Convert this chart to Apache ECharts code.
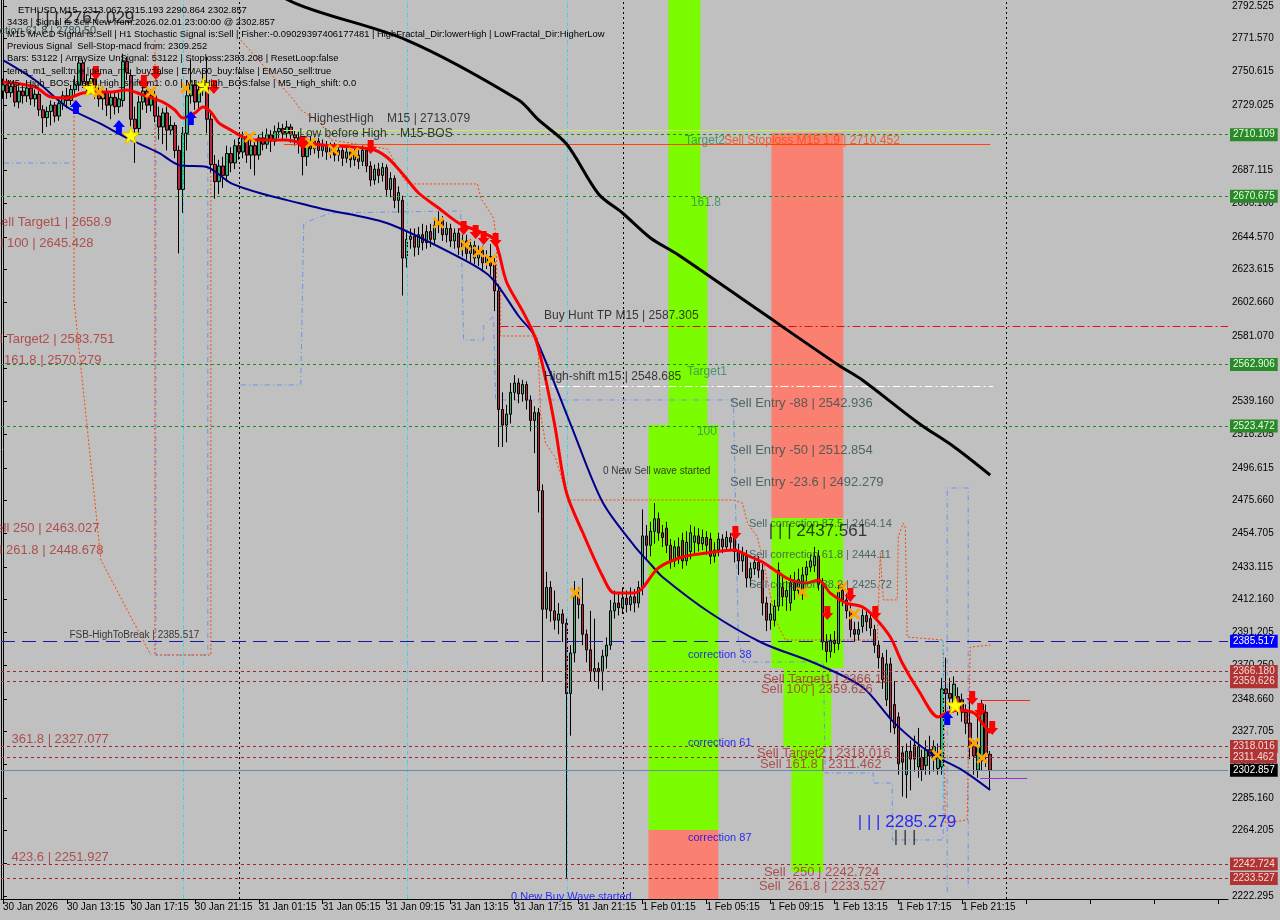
<!DOCTYPE html>
<html><head><meta charset="utf-8">
<script src="https://cdn.jsdelivr.net/npm/echarts@6/dist/echarts.min.js"></script>
<style>html,body{margin:0;padding:0;background:#c0c0c0}#c{width:1280px;height:920px}</style>
</head><body><div id="c"></div>
<script>
const FONT = '"Liberation Sans", Arial, sans-serif';
const Y_MIN = 2220.37, Y_MAX = 2796.37;
const SLOTS = 307;
const tickLabels = ['30 Jan 2026','30 Jan 13:15','30 Jan 17:15','30 Jan 21:15','31 Jan 01:15','31 Jan 05:15','31 Jan 09:15','31 Jan 13:15','31 Jan 17:15','31 Jan 21:15','1 Feb 01:15','1 Feb 05:15','1 Feb 09:15','1 Feb 13:15','1 Feb 17:15','1 Feb 21:15'];
const tickEvery = 16;
const yTicks = [2792.525,2771.570,2750.615,2729.025,2708.070,2687.115,2666.160,2644.570,2623.615,2602.660,2581.070,2560.115,2539.160,2518.205,2496.615,2475.660,2454.705,2433.115,2412.160,2391.205,2370.250,2348.660,2327.705,2306.750,2285.160,2264.205,2243.250,2222.295];

// [open, close, low, high] per M15 bar
const ohlc = [
[2738,2742,2733,2746],[2742,2737,2733,2746],[2737,2741,2734,2745],[2741,2731,2728,2743],[2731,2738,2727,2741],
[2738,2735,2730,2742],[2735,2740,2731,2744],[2740,2733,2729,2743],[2733,2736,2728,2739],[2736,2726,2722,2738],
[2726,2721,2711,2729],[2721,2725,2715,2728],[2725,2729,2716,2732],[2729,2722,2718,2731],[2722,2730,2719,2733],
[2730,2735,2726,2738],[2735,2732,2727,2740],[2732,2739,2729,2742],[2739,2742,2735,2748],[2742,2756,2738,2760],
[2756,2744,2740,2758],[2744,2740,2735,2749],[2740,2746,2736,2752],[2746,2738,2733,2750],[2738,2733,2728,2742],
[2733,2737,2726,2741],[2737,2729,2722,2740],[2729,2734,2720,2737],[2734,2728,2723,2738],[2728,2733,2724,2737],
[2732,2757,2728,2762],[2757,2750,2745,2760],[2748,2720,2712,2752],[2720,2714,2692,2728],[2714,2731,2710,2735],
[2731,2738,2726,2744],[2738,2729,2724,2742],[2729,2735,2725,2739],[2735,2722,2718,2738],[2722,2715,2707,2728],
[2715,2724,2704,2727],[2724,2713,2700,2728],[2713,2716,2710,2722],[2716,2700,2695,2718],[2700,2675,2634,2703],
[2675,2711,2660,2715],[2711,2735,2700,2745],[2735,2742,2730,2758],[2742,2731,2726,2745],[2731,2739,2727,2744],
[2739,2744,2735,2752],[2742,2720,2711,2760],[2720,2691,2686,2724],[2691,2680,2669,2697],[2680,2690,2672,2694],
[2690,2684,2676,2696],[2684,2698,2680,2703],[2698,2692,2686,2702],[2692,2703,2688,2707],[2703,2699,2694,2708],
[2699,2708,2695,2712],[2708,2697,2692,2711],[2697,2703,2688,2706],[2703,2697,2684,2707],[2697,2708,2694,2710],
[2708,2704,2700,2712],[2704,2710,2701,2714],[2710,2706,2699,2713],[2706,2712,2703,2716],[2712,2714,2708,2718],
[2714,2711,2707,2717],[2711,2715,2708,2719],[2715,2710,2705,2717],[2710,2708,2703,2713],[2708,2704,2698,2712],
[2704,2696,2684,2708],[2696,2706,2690,2709],[2706,2701,2697,2709],[2701,2706,2698,2709],[2706,2700,2695,2708],
[2700,2703,2696,2707],[2703,2699,2694,2706],[2699,2702,2695,2705],[2702,2697,2693,2705],[2697,2700,2693,2704],
[2700,2695,2690,2703],[2695,2699,2692,2702],[2699,2694,2689,2702],[2694,2697,2690,2701],[2697,2693,2688,2701],
[2693,2700,2690,2703],[2700,2690,2686,2702],[2690,2681,2677,2693],[2681,2688,2678,2691],[2688,2684,2679,2692],
[2684,2689,2680,2692],[2689,2675,2671,2691],[2675,2682,2670,2686],[2682,2668,2663,2684],[2668,2673,2660,2677],
[2668,2631,2607,2671],[2631,2643,2625,2648],[2643,2645,2637,2650],[2645,2638,2632,2650],[2638,2646,2633,2651],
[2646,2641,2636,2653],[2641,2648,2637,2652],[2648,2643,2638,2653],[2643,2652,2640,2656],[2652,2655,2647,2661],
[2655,2646,2642,2658],[2646,2650,2641,2654],[2650,2642,2638,2653],[2642,2647,2637,2650],[2647,2638,2633,2650],
[2638,2642,2632,2646],[2642,2634,2630,2646],[2634,2639,2628,2643],[2639,2631,2627,2642],[2631,2636,2626,2639],
[2636,2628,2622,2639],[2628,2632,2624,2636],[2632,2626,2620,2640],[2628,2610,2597,2632],[2610,2534,2510,2614],
[2534,2524,2510,2545],[2524,2531,2513,2537],[2531,2545,2525,2551],[2545,2551,2540,2556],[2551,2544,2538,2554],
[2544,2550,2539,2553],[2550,2540,2534,2552],[2540,2527,2520,2543],[2527,2532,2506,2536],[2532,2482,2468,2535],
[2482,2406,2360,2486],[2406,2420,2400,2430],[2420,2405,2398,2424],[2405,2399,2393,2418],[2399,2403,2390,2410],
[2403,2397,2385,2406],[2397,2352,2234,2400],[2352,2378,2325,2383],[2378,2415,2372,2424],[2415,2409,2400,2420],
[2409,2390,2383,2426],[2390,2380,2372,2393],[2380,2366,2360,2405],[2366,2368,2360,2400],[2368,2366,2355,2372],
[2366,2376,2354,2380],[2376,2383,2368,2388],[2383,2405,2380,2412],[2405,2410,2400,2418],[2410,2407,2402,2416],
[2407,2413,2403,2420],[2413,2409,2404,2418],[2409,2414,2405,2420],[2414,2410,2404,2419],[2410,2420,2407,2424],
[2420,2453,2415,2470],[2453,2447,2438,2460],[2447,2456,2440,2462],[2456,2464,2448,2474],[2464,2455,2450,2468],
[2455,2452,2446,2460],[2458,2447,2442,2462],[2447,2437,2432,2451],[2437,2446,2433,2450],[2446,2440,2435,2452],
[2450,2437,2432,2455],[2437,2449,2434,2456],[2443,2455,2438,2460],[2449,2453,2442,2459],[2453,2448,2443,2458],
[2448,2452,2444,2457],[2452,2447,2441,2456],[2451,2440,2435,2455],[2440,2444,2436,2449],[2444,2451,2440,2455],
[2451,2446,2442,2454],[2446,2452,2443,2456],[2452,2449,2444,2455],[2452,2443,2436,2456],[2443,2437,2428,2448],
[2437,2441,2430,2446],[2440,2426,2420,2444],[2426,2432,2421,2436],[2432,2436,2428,2440],[2436,2431,2426,2440],
[2431,2410,2402,2435],[2410,2399,2392,2414],[2399,2403,2393,2410],[2399,2408,2395,2412],[2408,2431,2405,2436],
[2420,2414,2408,2428],[2414,2418,2405,2424],[2410,2423,2405,2428],[2423,2418,2412,2430],[2418,2425,2414,2432],
[2416,2428,2412,2433],[2428,2433,2424,2437],[2433,2437,2430,2441],[2434,2440,2430,2446],[2440,2422,2418,2444],
[2422,2385,2380,2426],[2385,2379,2372,2390],[2379,2386,2375,2390],[2386,2384,2378,2392],[2384,2417,2380,2422],
[2418,2412,2408,2422],[2412,2405,2400,2416],[2405,2393,2388,2410],[2393,2390,2385,2398],[2390,2393,2386,2398],
[2395,2402,2391,2406],[2402,2398,2392,2406],[2400,2394,2389,2404],[2393,2383,2378,2396],[2383,2375,2368,2386],
[2375,2361,2355,2378],[2348,2371,2344,2380],[2371,2336,2327,2375],[2345,2330,2326,2360],[2337,2307,2300,2340],
[2314,2308,2286,2318],[2300,2315,2285,2320],[2315,2310,2290,2322],[2319,2310,2302,2325],[2305,2318,2298,2330],
[2311,2303,2296,2316],[2306,2316,2300,2322],[2316,2312,2300,2325],[2310,2318,2302,2322],[2304,2314,2300,2320],
[2305,2355,2300,2362],[2355,2352,2340,2375],[2352,2349,2342,2362],[2346,2358,2340,2363],[2350,2345,2338,2356],
[2348,2340,2334,2352],[2340,2333,2326,2345],[2333,2318,2310,2350],[2318,2312,2300,2322],[2303,2318,2298,2340],
[2309,2345,2303,2348],[2340,2313,2305,2345],[2313.067,2302.857,2290.864,2315.193]
];

// moving averages: [bar index, price]
const emaFast = [[0,2743.8],[8,2740.6],[12,2734.2],[16,2733.6],[20,2736.8],[23,2737.4],[27,2737.4],[31,2738.7],[35,2735.5],[40,2731.0],[43,2725.9],[45,2720.8],[48,2724.0],[50,2727.8],[52,2724.6],[54,2717.6],[57,2713.1],[60,2708.6],[63,2706.7],[71,2706.7],[75,2704.7],[80,2703.5],[92,2700.9],[96,2695.8],[100,2684.9],[104,2672.7],[109,2663.1],[114,2653.5],[120,2647.1],[123,2642.6],[126,2615.7],[130,2597.1],[133,2581.1],[135,2562.5],[138,2524.7],[141,2480.5],[145,2455.5],[150,2427.3],[153,2416.4],[158,2416.4],[160,2419.6],[164,2432.5],[170,2439.5],[176,2442.0],[183,2444.0],[186,2440.8],[190,2436.3],[193,2431.2],[197,2424.8],[201,2422.8],[204,2424.8],[207,2416.4],[211,2410.0],[215,2407.5],[218,2401.1],[222,2388.2],[225,2371.6],[229,2354.3],[234,2337.0],[236,2339.5],[239,2341.5],[243,2339.5],[245,2333.1],[247,2326.7]];
const maSlow = [[0,2757.9],[8,2745.1],[16,2727.8],[24,2717.6],[32,2706.7],[39,2698.4],[44,2690.7],[51,2689.4],[57,2679.1],[66,2671.4],[74,2666.3],[80,2662.5],[96,2653.5],[114,2631.7],[122,2618.9],[129,2593.9],[133,2581.1],[142,2524.7],[150,2474.7],[158,2446.5],[162,2435.0],[165,2426.7],[177,2403.6],[190,2384.4],[203,2371.6],[215,2356.2],[223,2333.2],[232,2313.9],[240,2303.0],[247,2290.2]];
const ma200 = [[58,2818],[73,2794.4],[101,2770.7],[129,2732.3],[134,2719.5],[141,2704.1],[149,2672.1],[155,2659.9],[162,2643.9],[169,2633.0],[189,2597.7],[209,2562.5],[215,2552.9],[229,2525.4],[238,2510.0],[247,2492.0]];

// price levels
const greenLevels = [2710.109, 2670.675, 2562.906, 2523.472];
const blueLevels = [2385.517];
const redLevels = [2366.180, 2359.626, 2318.016, 2311.462, 2242.724, 2233.527];
const lastPrice = 2302.857;

// partial horizontal segments [fromBar, toBar, price]
const buyHuntTP = [[124.5, 306.5, 2587.305]];
const highShift = [[134.5, 247.75, 2548.685]];
const highestHigh = [[70.25, 247, 2713.079]];
const lowBeforeHigh = [[70.25, 247, 2704.2]];
const redShort = [[245, 257, 2347.9]];
const purpleShort = [[244.5, 256.25, 2297.9]];

// vertical lines
const dayDividers = [59, 155.25, 251];
const cyanFull = [45, 101.25, 141.25];
const cyanPartial = [[235.25, 2386.3, 2283.0]];

// zones [fromBar, toBar, topPrice, bottomPrice]
const greenZones = [[166.5,174.5,2796.4,2670.8],[166.5,176.25,2670.8,2524.1],[161.5,179,2524.1,2264.6],[192.25,210.25,2464.5,2368.4],[195.25,207.25,2368.4,2317.8],[197.25,205.25,2317.8,2237.7]];
const salmonZones = [[161.5,179,2264.6,2220.4],[192.25,210.25,2711.2,2464.5]];

// dashed indicator envelopes [bar, price]
const blueEnv1 = [[0.25,2691.9],[17.5,2691.9]];
const blueEnv2 = [[38.25,2732.3],[38.25,2376.7],[51.25,2376.7],[51.25,2706.7]];
const blueEnv3 = [[59.5,2549.7],[74.5,2549.7],[75.25,2653.5],[82,2659.9],[114.5,2661.2],[115.25,2578.5],[120.25,2578.5],[120.25,2587.5],[122.75,2593.9],[123.25,2540.1],[182.75,2540.1],[184,2386.3],[185.25,2372.2],[205.25,2372.2],[205.75,2301.1],[217.75,2301.1],[217.75,2294.7],[222.5,2294.7],[222.5,2258.2],[235.25,2258.2],[235.25,2386.3]];
const blueEnv4 = [[236.25,2225],[236.25,2483.7],[241.5,2483.7],[241.5,2226]];
const orangeEnv1 = [[17.75,2732.3],[17.75,2604.2],[24.5,2437.6],[37,2376.7]];
const orangeEnv2 = [[38,2770.7],[38,2376.7],[52,2376.7],[52,2711.2]];
const orangeEnv3 = [[59.5,2770.7],[72.75,2732.3],[74.5,2725.9],[79.5,2717.6],[82,2706.7],[96.25,2700.9],[100.25,2681.7],[101.25,2678.5],[118.75,2678.5],[119.5,2669.5],[122.75,2656.7],[123.5,2640.7],[123.5,2615.7],[124.5,2612.5],[124.5,2581.1],[133.75,2581.1],[134.5,2531.1],[135.75,2512.5],[138.25,2502.9],[141.25,2477.9],[142,2476.0],[182.75,2476.0],[185,2474.1],[186.25,2461.3],[188.75,2452.3],[190,2439.5],[193.25,2399.1],[195.75,2386.3],[218.75,2386.3],[219.5,2442.1],[220.25,2412.0],[223.75,2412.0],[224,2452.3],[225.25,2461.3],[225.75,2458.7],[226.25,2388.2],[235.25,2386.3],[235.75,2269.1],[241.25,2271.0],[242,2381.8],[247,2383.1]];

// signal markers [bar, price]
const sellArrows = [[23.25,2749.6],[35.25,2743.8],[38.25,2749.6],[52.75,2740.6],[75,2704.7],[92,2702.2],[115.25,2650.3],[118.25,2647.7],[120.25,2643.9],[123.25,2642.6],[183.25,2454.9],[206.25,2403.6],[212,2415.1],[218.25,2403.6],[242.5,2349.2],[244.5,2341.5],[247.5,2330.0]];
const buyArrows = [[18.25,2727.8],[29,2715.0],[47,2720.8],[236.25,2336.3]];
const stars = [[22,2740.0],[32,2709.9],[50.25,2741.9],[238.25,2344.7]];
const crosses = [[24,2737.4],[37,2737.4],[45.75,2740.0],[61.75,2708.6],[77,2704.7],[82.75,2700.3],[87.75,2698.3],[109,2653.5],[115.75,2639.4],[119,2634.9],[122,2629.8],[143.25,2416.4],[200,2417.1],[210,2420.3],[213,2403.0],[233.75,2312.6],[243,2320.3],[245,2310.7]];

// text notes [bar, price, text]
const notesDark = [[76.25,2720.1,'HighestHigh    M15 | 2713.079'],[74,2710.5,'Low before High    M15-BOS'],[135.25,2593.9,'Buy Hunt TP M15 | 2587.305'],[135.25,2554.8,'High-shift m15 | 2548.685']];
const notesEntry = [[181.75,2538.2,'Sell Entry -88 | 2542.936'],[181.75,2508.0,'Sell Entry -50 | 2512.854'],[181.75,2487.5,'Sell Entry -23.6 | 2492.279']];
const notesCorr = [[186.5,2460.6,'Sell correction 87.5 | 2464.14'],[186.5,2440.8,'Sell correction 61.8 | 2444.11'],[186.5,2421.6,'Sell correction 38.2 | 2425.72']];
const notesGreen = [[170.5,2706.0,'Target2'],[172,2666.3,'161.8'],[171,2558.0,'Target1'],[173.5,2519.6,'100']];
const notesStop = [[180.25,2706.0,'Sell Stoploss M15 1.9 | 2710.452']];
const notesSmall = [[150,2494.6,'0 New Sell wave started'],[16.5,2389.5,'FSB-HighToBreak | 2385.517']];
const notesBigBlack = [[191.5,2456.2,'| | | 2437.561'],[222.75,2260.1,'| | |']];
const notesBigBlue = [[213.75,2269.7,'| | | 2285.279']];
const notesBlue = [[171.25,2376.7,'correction 38'],[171.25,2320.3,'correction 61'],[171.25,2259.5,'correction 87'],[127,2221.9,'0 New Buy Wave started']];
const notesTargets = [[190,2361.3,'Sell Target1 | 2366.18'],[189.5,2354.9,'Sell 100 | 2359.626'],[188.5,2313.9,'Sell Target2 | 2318.016'],[189.25,2306.9,'Sell 161.8 | 2311.462'],[190.25,2237.7,'Sell  250 | 2242.724'],[189,2228.6,'Sell  261.8 | 2233.527'],[2,2322.3,'361.8 | 2327.077'],[2,2247.3,'423.6 | 2251.927']];
const notesTargetsLeft = [[27.25,2654.1,'Sell Target1 | 2658.9'],[22.75,2640.7,'Sell 100 | 2645.428'],[28,2579.2,'Sell Target2 | 2583.751'],[24.75,2565.7,'Sell 161.8 | 2570.279'],[24.25,2458.1,'Sell 250 | 2463.027'],[25.25,2444.0,'Sell 261.8 | 2448.678']];

const headerLines = [
  'ETHUSD,M15  2313.067 2315.193 2290.864 2302.857',
  '3438 | Signal is Sell-New from:2026.02.01 23:00:00 @ 2302.857',
  'M15 MACD Signal is:Sell | H1 Stochastic Signal is:Sell | Fisher:-0.09029397406177481 | HighFractal_Dir:lowerHigh | LowFractal_Dir:HigherLow',
  'Previous Signal  Sell-Stop-macd from: 2309.252',
  'Bars: 53122 | ArraySize UnSignal: 53122 | Stoploss:2383.208 | ResetLoop:false',
  'tema_m1_sell:true | tema_m1_buy:false | EMA50_buy:false | EMA50_sell:true',
  'M5_High_BOS:false | High_shift_m1: 0.0 | M1_High_BOS:false | M5_High_shift: 0.0'
];

// ---------- build ----------
const chart = echarts.init(document.getElementById('c'), null, {renderer:'canvas'});
const slots = Array.from({length: SLOTS}, (_, i) => String(i));

function hl(price, color, type, width, box, txtColor) {
  return {yAxis: price, lineStyle:{color, type, width},
    label:{show: !!box, position:'end', distance:2, formatter: () => price.toFixed(3),
      backgroundColor: box, color: txtColor || '#fff', padding:[2,3,1,3], fontSize:10, fontFamily: FONT}};
}
function seg(list, color, type, width) {
  return list.map(s => [{coord:[s[0], s[2]], lineStyle:{color, type, width}}, {coord:[s[1], s[2]]}]);
}
function vfull(list, color, type) {
  return list.map(v => ({xAxis: v, lineStyle:{color, type, width:1}}));
}
function zones(list, color) {
  return list.map(z => [{coord:[z[0], z[2]], itemStyle:{color, opacity:1}}, {coord:[z[1], z[3]]}]);
}
function pathLine(data, color, type) {
  return {type:'line', xAxisIndex:1, data, symbol:'none', silent:true, z:3, clip:true,
    lineStyle:{color, width:1, type}, animation:false};
}
function textSeries(data, color, size, pos, z) {
  return {type:'scatter', xAxisIndex:1, data, symbolSize:1, itemStyle:{color:'rgba(0,0,0,0)'}, silent:true, z: z || 8, clip:false,
    label:{show:true, position: pos || 'right', distance:0, formatter: p => p.data[2], color, fontSize:size, fontFamily:FONT}, animation:false};
}
function markerSeries(data, symbol, size, color, border) {
  return {type:'scatter', xAxisIndex:1, data, symbol, symbolSize:size, silent:true, z:7,
    itemStyle:{color, borderColor: border || color, borderWidth: border ? 1 : 0, opacity:1}, animation:false};
}

const ARROW_DOWN = 'path://M3,0 L9,0 L9,7 L12,7 L6,14 L0,7 L3,7 Z';
const ARROW_UP = 'path://M6,0 L12,7 L9,7 L9,14 L3,14 L3,7 L0,7 Z';
const STAR = 'path://M50,0 L61,35 L98,35 L68,57 L79,91 L50,70 L21,91 L32,57 L2,35 L39,35 Z';
const CROSS = 'path://M0,2 L2,0 L6,4 L10,0 L12,2 L8,6 L12,10 L10,12 L6,8 L2,12 L0,10 L4,6 Z';

const fullLines = []
  .concat(greenLevels.map(p => hl(p, '#1f8a1f', [3,3], 1, '#2a8a2a', '#e8ffe0')))
  .concat(blueLevels.map(p => hl(p, '#1a1aa0', [14,7], 1, '#0000ff', '#ffffff')))
  .concat(redLevels.map(p => hl(p, '#a02828', [3,3], 1, '#b03434', '#f4dada')))
  .concat([hl(lastPrice, '#6d8aa3', 'solid', 1, '#000000', '#ffffff')]);

const guideLines = []
  .concat(vfull(dayDividers, '#000000', [2,3]))
  .concat(vfull(cyanFull, '#30d8f0', [4,2,1,2]))
  .concat(cyanPartial.map(c => [{coord:[c[0], c[1]], lineStyle:{color:'#30d8f0', type:[4,2,1,2], width:1}}, {coord:[c[0], c[2]]}]))
  .concat(seg(buyHuntTP, '#e01010', [8,3,2,3], 1))
  .concat(seg(highShift, '#ffffff', [8,3,2,3], 1))
  .concat(seg(highestHigh, '#c6ec5a', 'solid', 1))
  .concat(seg(lowBeforeHigh, '#ff4500', 'solid', 1))
  .concat(seg(redShort, '#ff2020', 'solid', 1))
  .concat(seg(purpleShort, '#9a30e0', 'solid', 1));

const option = {
  backgroundColor: '#c0c0c0',
  animation: false,
  grid: {left:0, right:52, top:0, bottom:21, containLabel:false},
  xAxis: [
    {type:'category', data: slots, boundaryGap:true,
      axisLine:{show:true, lineStyle:{color:'#000', width:1}},
      axisTick:{show:true, interval: i => i % tickEvery === 0, alignWithLabel:true, length:5, lineStyle:{color:'#000'}},
      axisLabel:{show:true, interval: i => i % tickEvery === 0, formatter: (v, i) => tickLabels[i / tickEvery] || '',
        align:'left', color:'#000', fontSize:10, fontFamily:FONT, margin:3},
      splitLine:{show:false}},
    {type:'value', min:-0.5, max:SLOTS - 0.5, show:false, gridIndex:0}
  ],
  yAxis: [
    {type:'value', position:'right', min:Y_MIN, max:Y_MAX, scale:true,
      axisLine:{show:true, lineStyle:{color:'#000', width:1}},
      axisTick:{show:true, customValues: yTicks, length:4, lineStyle:{color:'#000'}},
      axisLabel:{show:true, customValues: yTicks, formatter: v => Number(v).toFixed(3), color:'#000', fontSize:10, fontFamily:FONT, margin:4},
      splitLine:{show:false}},
    {type:'value', position:'left', min:Y_MIN, max:Y_MAX,
      axisLine:{show:true, onZero:false, lineStyle:{color:'#000', width:1}}, axisTick:{show:false}, axisLabel:{show:false}, splitLine:{show:false}}
  ],
  graphic: headerLines.map((t, i) => ({type:'text', x: i === 0 ? 18 : 7, y: 10 + i * 12.2, z:100,
      style:{text:t, fill:'#000', fontSize:9.4, fontFamily:FONT, verticalAlign:'middle'}}))
    .concat([
      {type:'text', x:36, y:18, z:99, style:{text:'| | | 2767.029', fill:'#2a2a2a', fontSize:17, fontFamily:FONT, verticalAlign:'middle'}},
      {type:'text', x:96, y:31, z:99, style:{text:'Sell correction 61.8 | 2780.50', fill:'#2f4f4f', fontSize:11, fontFamily:FONT, align:'right', verticalAlign:'middle'}}
    ]),
  series: [
    {type:'line', xAxisIndex:1, data:[[0, Y_MIN]], symbol:'none', lineStyle:{width:0}, silent:true, z:1,
      markArea:{silent:true, z:1, data: zones(greenZones, '#7cfc00').concat(zones(salmonZones, '#fa8072'))}},
    {type:'line', xAxisIndex:1, data:[[0, Y_MIN]], symbol:'none', lineStyle:{width:0}, silent:true, z:2,
      markLine:{silent:true, symbol:'none', label:{show:false}, data: guideLines}},
    pathLine(blueEnv1, '#6495ed', [5,3,1,3]),
    pathLine(blueEnv2, '#6495ed', [5,3,1,3]),
    pathLine(blueEnv3, '#6495ed', [5,3,1,3]),
    pathLine(blueEnv4, '#6495ed', [5,3,1,3]),
    pathLine(orangeEnv1, '#ff4500', [2,2]),
    pathLine(orangeEnv2, '#ff4500', [2,2]),
    pathLine(orangeEnv3, '#ff4500', [2,2]),
    {type:'candlestick', xAxisIndex:0, yAxisIndex:0, data: ohlc, barWidth:3, z:4,
      itemStyle:{color:'#3cb371', color0:'#b8283a', borderColor:'#000', borderColor0:'#000', borderWidth:1},
      markLine:{silent:true, symbol:'none', data: fullLines}},
    {type:'line', xAxisIndex:1, data: maSlow, symbol:'none', smooth:0.3, z:5, lineStyle:{color:'#00008b', width:2}},
    {type:'line', xAxisIndex:1, data: emaFast, symbol:'none', smooth:0.3, z:5, lineStyle:{color:'#ff0000', width:3}},
    {type:'line', xAxisIndex:1, data: ma200, symbol:'none', smooth:0.3, z:5, clip:true, lineStyle:{color:'#000000', width:3}},
    markerSeries(sellArrows, ARROW_DOWN, [12,14], '#ff0000'),
    markerSeries(buyArrows, ARROW_UP, [12,14], '#0000ff'),
    markerSeries(stars, STAR, [18,18], '#ffff00', '#e0c000'),
    markerSeries(crosses, CROSS, [12,12], '#ffa500'),
    textSeries(notesDark, '#111111', 12),
    textSeries(notesEntry, '#2f4f4f', 13),
    textSeries(notesCorr, '#2f4f4f', 11),
    textSeries(notesGreen, '#2e8b57', 12),
    textSeries(notesStop, '#ff4500', 12),
    textSeries(notesSmall, '#111111', 10),
    textSeries(notesBigBlack, '#111111', 17),
    textSeries(notesBigBlue, '#0000ff', 17),
    textSeries(notesBlue, '#0000ff', 11),
    textSeries(notesTargets, '#a83232', 13),
    textSeries(notesTargetsLeft, '#a83232', 13, 'left')
  ]
};
chart.setOption(option);
</script></body></html>
